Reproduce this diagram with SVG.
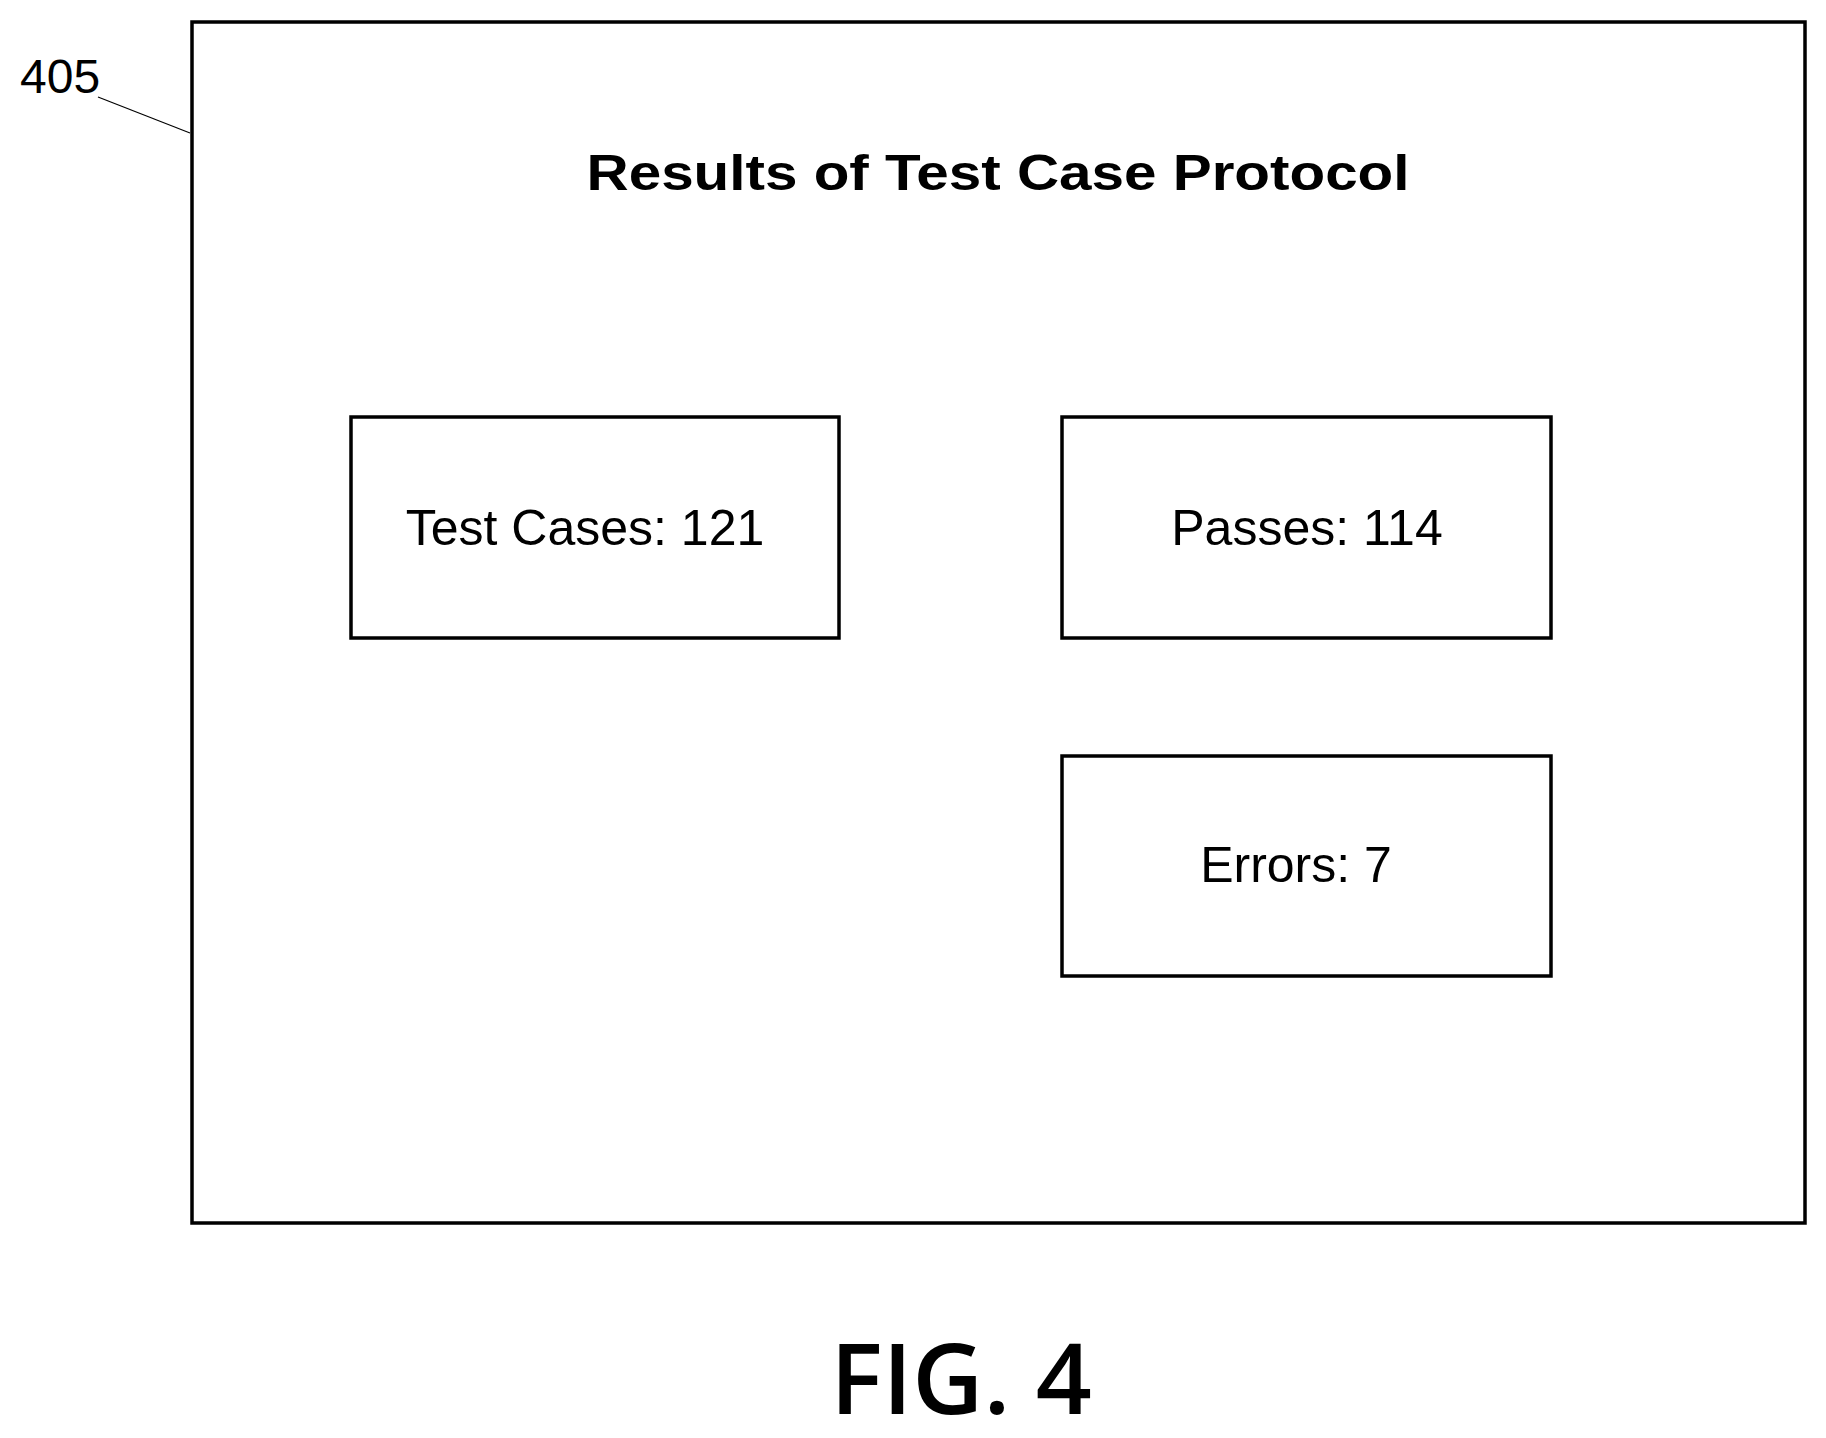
<svg xmlns="http://www.w3.org/2000/svg" width="1826" height="1438" viewBox="0 0 1826 1438">
<style>
.b{fill:none;stroke:#000;stroke-width:3.5}
.t{font-family:"Liberation Sans",Arial,sans-serif;font-size:50px;text-anchor:middle}
</style>
<rect width="1826" height="1438" fill="#fff"/>
<g id="frame405"><rect class="b" x="192" y="22" width="1613" height="1201"/>
<text x="20" y="93" font-family="Liberation Sans,sans-serif" font-size="48">405</text>
<text x="998" y="190" class="t" font-weight="bold" font-size="57" textLength="823" lengthAdjust="spacingAndGlyphs">Results of Test Case Protocol</text></g>
<g id="connectors"><line x1="98" y1="97" x2="190" y2="133" stroke="#000" stroke-width="1.2"/></g>
<g id="testcases"><rect class="b" x="351" y="417" width="488" height="221"/><text class="t" x="585" y="545">Test Cases: 121</text></g>
<g id="passes"><rect class="b" x="1062" y="417" width="489" height="221"/><text class="t" x="1307" y="545">Passes: 114</text></g>
<g id="errors"><rect class="b" x="1062" y="756" width="489" height="220"/><text class="t" x="1296" y="882">Errors: 7</text></g>
<text x="961" y="1414" text-anchor="middle" font-family="Open Sans,sans-serif" font-weight="600" font-size="98">FIG. 4</text>
</svg>
